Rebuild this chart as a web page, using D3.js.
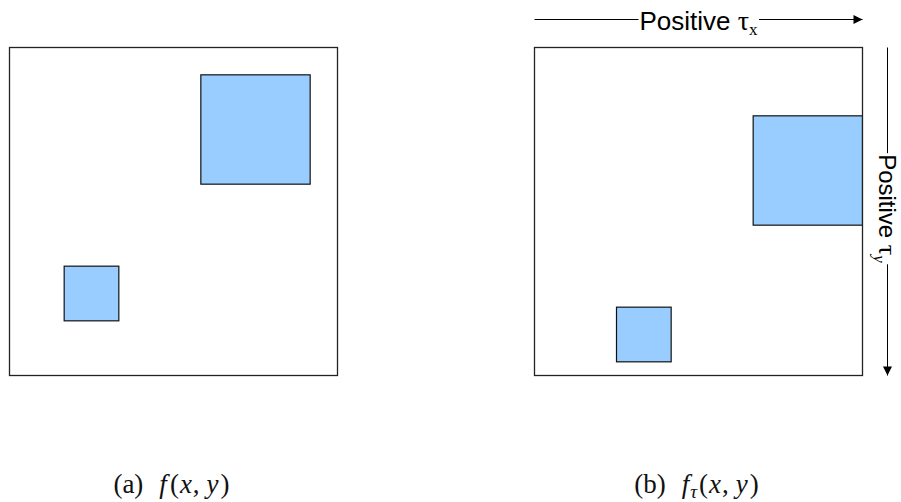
<!DOCTYPE html>
<html>
<head>
<meta charset="utf-8">
<script src="https://cdn.jsdelivr.net/npm/d3@7"></script>
<style>
  body { margin: 0; background: #fff; }
</style>
</head>
<body>
<div id="chart"></div>
<script>
// grid units of the image plane
var gridMax = 12;
// the two blue squares (top-left corner + side, in grid units)
var squareNames = ["large", "small"];
var squareX = [7, 2];
var squareY = [1, 8];
var squareSize = [4, 2];
// shift applied in panel (b)
var tauX = 1;
var tauY = 1.5;
var panelNames = ["a", "b"];
var panelShiftX = [0, tauX];
var panelShiftY = [0, tauY];

var W = 901, H = 502;
var side = 328;
var panelLeft = [9.5, 534.5];
var panelTop = 47.5;

var svg = d3.select("#chart").append("svg")
    .attr("width", W)
    .attr("height", H);

var s = d3.scaleLinear().domain([0, gridMax]).range([0, side]);

svg.append("defs").append("marker")
    .attr("id", "head")
    .attr("viewBox", "0 0 10 10")
    .attr("refX", 10)
    .attr("refY", 5)
    .attr("markerWidth", 10)
    .attr("markerHeight", 9)
    .attr("markerUnits", "userSpaceOnUse")
    .attr("orient", "auto")
    .append("path")
    .attr("d", "M0,0L10,5L0,10Z")
    .attr("fill", "#000");

panelNames.forEach(function(p, i) {
    var g = svg.append("g")
        .attr("transform", "translate(" + panelLeft[i] + "," + panelTop + ")");

    g.append("clipPath").attr("id", "clip-" + p)
        .append("rect")
        .attr("width", s(gridMax))
        .attr("height", s(gridMax));

    var squares = squareNames.map(function(n, k) {
        return { name: n, x: squareX[k] + panelShiftX[i], y: squareY[k] + panelShiftY[i], size: squareSize[k] };
    });

    g.append("g")
        .attr("clip-path", "url(#clip-" + p + ")")
        .selectAll("rect")
        .data(squares)
        .enter().append("rect")
        .attr("x", function(d) { return s(d.x); })
        .attr("y", function(d) { return s(d.y); })
        .attr("width", function(d) { return s(d.size); })
        .attr("height", function(d) { return s(d.size); })
        .attr("fill", "#99ccff")
        .attr("stroke", "#111")
        .attr("stroke-width", 1.2);

    // frame
    g.append("rect")
        .attr("width", s(gridMax))
        .attr("height", s(gridMax))
        .attr("fill", "none")
        .attr("stroke", "#222")
        .attr("stroke-width", 1.3);

    // caption
    var cap = svg.append("text")
        .attr("x", panelLeft[i] + s(gridMax) / 2 - 2)
        .attr("y", 493)
        .attr("text-anchor", "middle")
        .attr("font-family", "'Liberation Serif', 'Times New Roman', serif")
        .attr("font-size", 27)
        .attr("fill", "#111");
    cap.append("tspan").text("(" + p + ")");
    cap.append("tspan").attr("dx", 16).attr("font-style", "italic").text("f");
    if (p === "b") {
        cap.append("tspan").attr("dy", 5).attr("dx", 1).attr("font-size", 19).attr("font-style", "italic").text("τ");
        cap.append("tspan").attr("dy", -5).attr("dx", 2).text("(");
    } else {
        cap.append("tspan").attr("dx", 3).text("(");
    }
    cap.append("tspan").attr("dx", 1).attr("font-style", "italic").text("x");
    cap.append("tspan").attr("dx", 1).text(",");
    cap.append("tspan").attr("dx", 7).attr("font-style", "italic").text("y");
    cap.append("tspan").attr("dx", 2).text(")");
});

// labelled arrow: draws text centred at mid, line broken around it
function labelArrow(g, len, mid, off, size, sub, subItalic) {
    var t = g.append("text")
        .attr("x", mid)
        .attr("y", off)
        .attr("text-anchor", "middle")
        .attr("fill", "#000");
    t.append("tspan")
        .attr("font-family", "'Liberation Sans', Arial, sans-serif")
        .attr("font-size", size)
        .text("Positive ");
    t.append("tspan")
        .attr("font-family", "'Liberation Serif', 'Times New Roman', serif")
        .attr("font-size", size + 2)
        .text("τ");
    t.append("tspan")
        .attr("font-family", "'Liberation Serif', 'Times New Roman', serif")
        .attr("font-size", 17)
        .attr("font-style", subItalic ? "italic" : "normal")
        .attr("dy", 5)
        .text(sub);

    var bb = t.node().getBBox();
    g.append("line")
        .attr("x1", 0).attr("x2", bb.x - 1)
        .attr("y1", 0).attr("y2", 0)
        .attr("stroke", "#000").attr("stroke-width", 1);
    g.append("line")
        .attr("x1", bb.x + bb.width + 1).attr("x2", len)
        .attr("y1", 0).attr("y2", 0)
        .attr("stroke", "#000").attr("stroke-width", 1)
        .attr("marker-end", "url(#head)");
}

var topArrow = svg.append("g")
    .attr("transform", "translate(" + panelLeft[1] + ",19.5)");
labelArrow(topArrow, s(gridMax), s(gridMax) / 2, 10, 26, "x", false);

var sideArrow = svg.append("g")
    .attr("transform", "translate(887.5," + panelTop + ") rotate(90)");
labelArrow(sideArrow, s(gridMax), s(gridMax) / 2 - 3, 9, 24, "y", true);
</script>
</body>
</html>
